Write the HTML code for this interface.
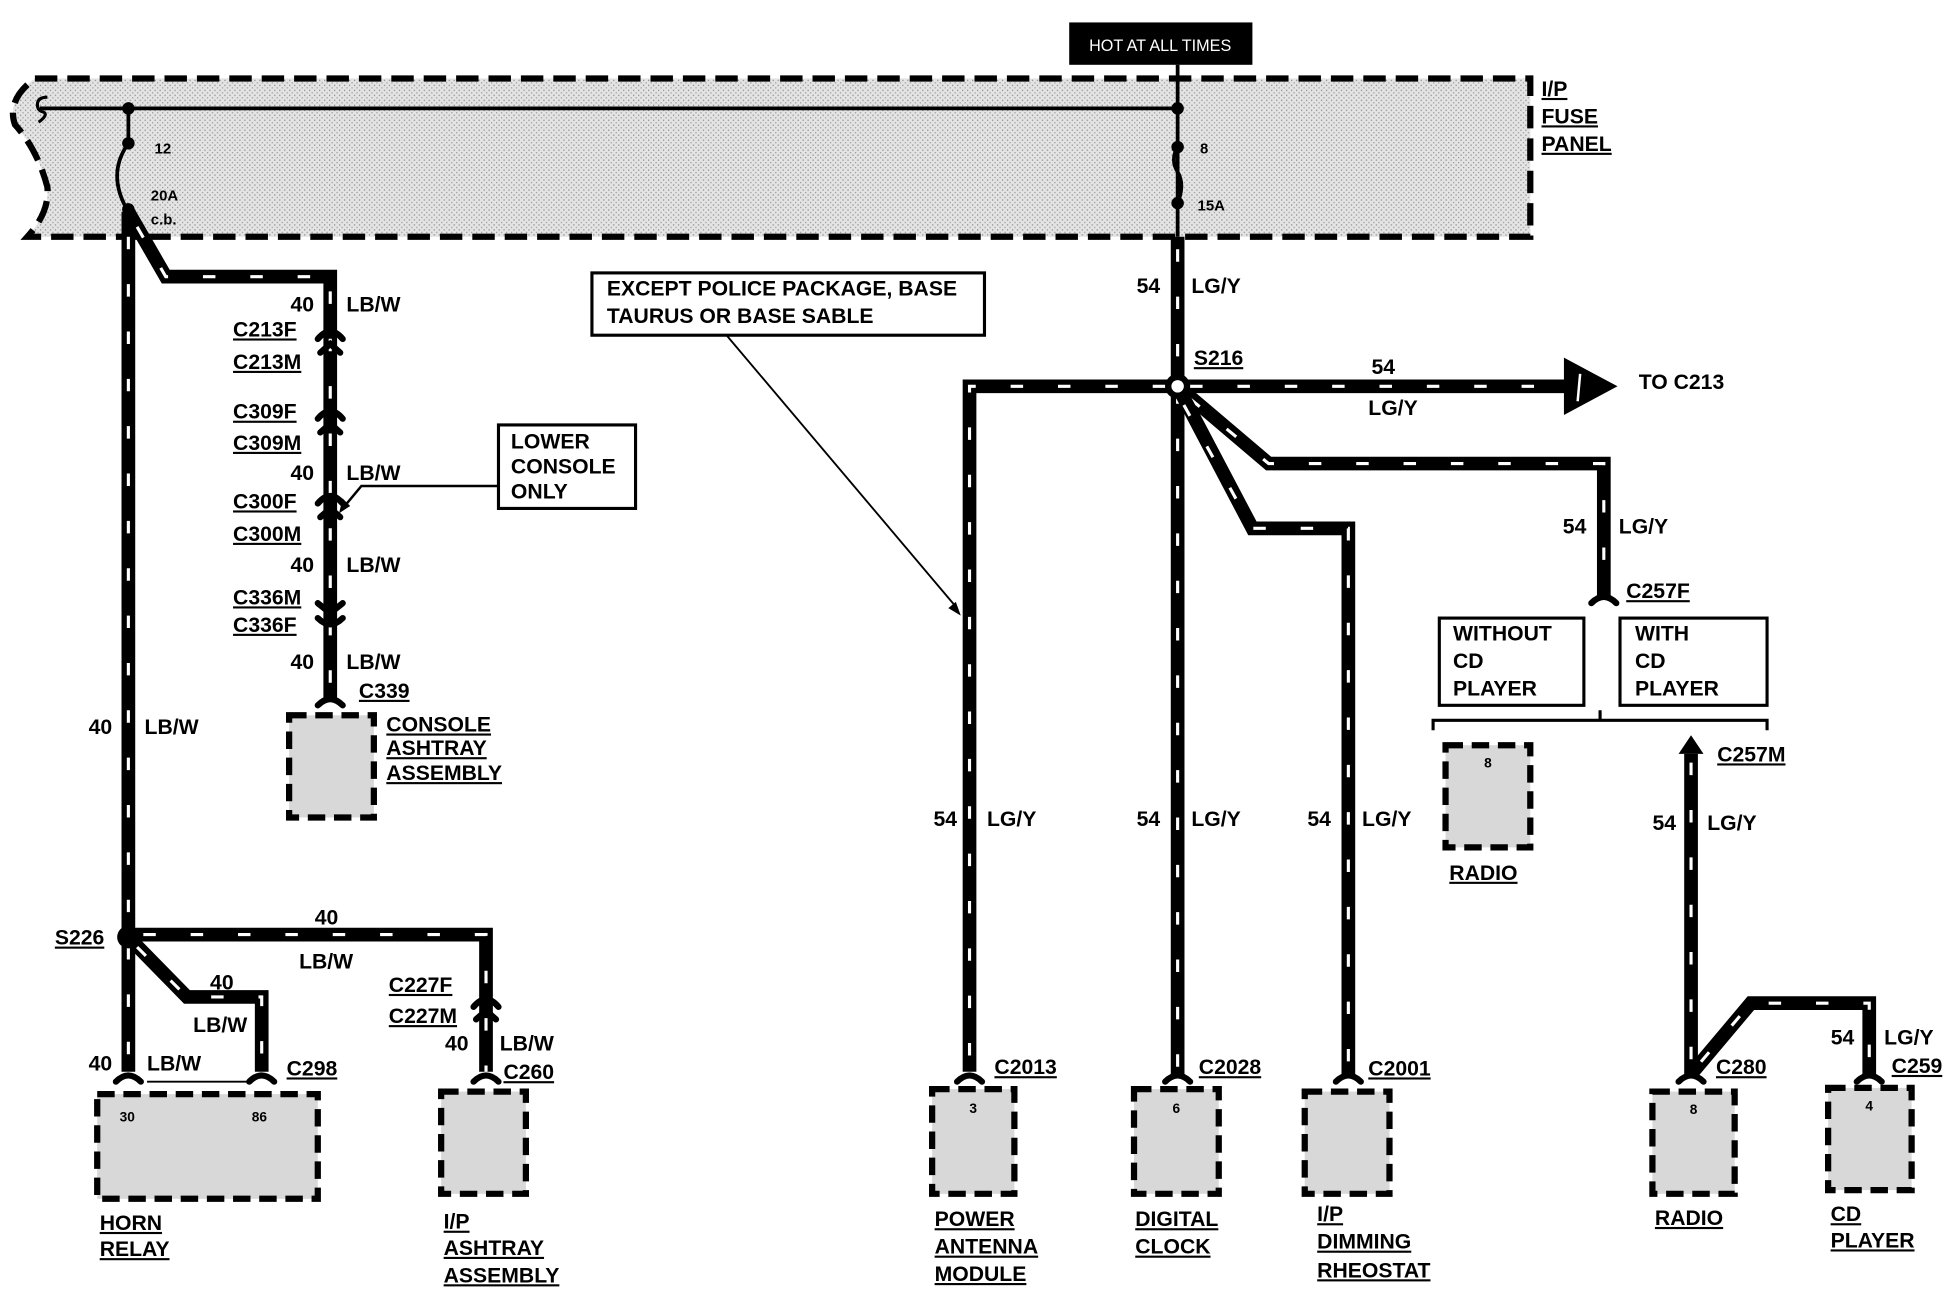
<!DOCTYPE html>
<html><head><meta charset="utf-8"><style>
html,body{margin:0;padding:0;background:#fff;}
svg{display:block}
text{font-family:"Liberation Sans",Arial,sans-serif;font-weight:bold;font-size:17px;fill:#000}
.u{text-decoration:underline}
.w{fill:none;stroke:#000;stroke-width:11;stroke-linejoin:miter}
.d{fill:none;stroke:#fff;stroke-width:2.5;stroke-dasharray:10 28}
.t{fill:none;stroke:#000;stroke-width:5;stroke-linecap:round}
.box{fill:#d8d8d8;stroke:#000;stroke-width:5;stroke-dasharray:14 7}
.lb{fill:#fff;stroke:#000;stroke-width:2.5}
</style></head><body>
<svg width="1954" height="1296" viewBox="0 0 1568 1040" xmlns="http://www.w3.org/2000/svg">
<defs>
<pattern id="dots" width="4" height="4" patternUnits="userSpaceOnUse"><rect width="4" height="4" fill="#e4e4e4"/><rect width="1" height="1" fill="#888"/><rect x="2" y="2" width="1" height="1" fill="#999"/></pattern>
</defs>
<!-- fuse panel -->
<path d="M28,63 L1228,63 L1228,190 L22,190 Q40,170 38,150 Q30,120 12,100 Q5,80 28,63 Z" fill="url(#dots)" stroke="#000" stroke-width="5" stroke-dasharray="18 8"/>
<rect x="858" y="18" width="147" height="34" fill="#000"/>
<text x="931" y="41" text-anchor="middle" style="fill:#fff;font-weight:normal;font-size:13px">HOT AT ALL TIMES</text>
<line x1="945" y1="52" x2="945" y2="190" stroke="#000" stroke-width="3"/>
<path d="M945,118 q-6,10 0,20 q6,10 0,25" fill="none" stroke="#000" stroke-width="3"/>
<line x1="32" y1="87" x2="945" y2="87" stroke="#000" stroke-width="3"/>
<path d="M38,78 q-8,0 -8,6 q0,5 5,6 q4,2 -4,8" fill="none" stroke="#000" stroke-width="2.5"/>
<line x1="103" y1="87" x2="103" y2="115" stroke="#000" stroke-width="3"/>
<path d="M103,115 Q85,140 103,170" fill="none" stroke="#000" stroke-width="3"/>
<circle cx="103" cy="87" r="5"/><circle cx="103" cy="115" r="5"/><circle cx="103" cy="168" r="5"/>
<circle cx="945" cy="87" r="5"/><circle cx="945" cy="118" r="5"/><circle cx="945" cy="163" r="5"/>
<text x="124" y="123" style="font-size:12px">12</text>
<text x="121" y="161" style="font-size:12px">20A</text>
<text x="121" y="180" style="font-size:12px">c.b.</text>
<text x="963" y="123" style="font-size:12px">8</text>
<text x="961" y="169" style="font-size:12px">15A</text>
<text x="1237" y="77" class="u">I/P</text>
<text x="1237" y="99" class="u">FUSE</text>
<text x="1237" y="121" class="u">PANEL</text>

<!-- left wires -->
<path class="w" d="M103,170 L103,860"/><path class="d" d="M103,190 L103,860"/>
<path class="w" d="M103,170 L133,222 L265,222 L265,560"/><path class="d" d="M110,182 L133,222 L265,222 L265,560"/>
<g class="t">
<path d="M255,272 Q265,260 275,272"/><path d="M257,283 L265,276 L273,283"/>
<path d="M255,336 Q265,324 275,336"/><path d="M257,347 L265,340 L273,347"/>
<path d="M255,404 Q265,392 275,404"/><path d="M257,415 L265,408 L273,415"/>
<path d="M255,484 L265,492 L275,484"/><path d="M255,496 Q265,506 275,496"/>
</g>
<path d="M255,566 Q265,556 275,566" class="t"/>
<text x="252" y="250" text-anchor="end">40</text><text x="278" y="250">LB/W</text>
<text x="187" y="270" class="u">C213F</text><text x="187" y="296" class="u">C213M</text>
<text x="187" y="336" class="u">C309F</text><text x="187" y="361" class="u">C309M</text>
<text x="252" y="385" text-anchor="end">40</text><text x="278" y="385">LB/W</text>
<text x="187" y="408" class="u">C300F</text><text x="187" y="434" class="u">C300M</text>
<text x="252" y="459" text-anchor="end">40</text><text x="278" y="459">LB/W</text>
<text x="187" y="485" class="u">C336M</text><text x="187" y="507" class="u">C336F</text>
<text x="252" y="537" text-anchor="end">40</text><text x="278" y="537">LB/W</text>
<text x="288" y="560" class="u">C339</text>
<rect x="400" y="341" width="110" height="67" class="lb"/>
<text x="410" y="360">LOWER</text><text x="410" y="380">CONSOLE</text><text x="410" y="400">ONLY</text>
<path d="M400,390 L290,390 L275,408" fill="none" stroke="#000" stroke-width="2"/>
<path d="M272,412 l3,-12 l6,6 z"/>
<rect x="232" y="574" width="68" height="82" class="box"/>
<text x="310" y="587" class="u">CONSOLE</text><text x="310" y="606" class="u">ASHTRAY</text><text x="310" y="626" class="u">ASSEMBLY</text>
<text x="90" y="589" text-anchor="end">40</text><text x="116" y="589">LB/W</text>

<!-- S226 -->
<path class="w" d="M103,750 L390,750 L390,860"/><path class="d" d="M115,750 L390,750 L390,860"/>
<path class="w" d="M103,752 L150,800 L210,800 L210,860"/><path class="d" d="M110,760 L150,800 L210,800 L210,860"/>
<circle cx="103" cy="752" r="9"/>
<text x="44" y="758" class="u">S226</text>
<text x="262" y="742" text-anchor="middle">40</text><text x="240" y="777">LB/W</text>
<text x="178" y="794" text-anchor="middle">40</text><text x="155" y="828">LB/W</text>
<text x="90" y="859" text-anchor="end">40</text><text x="118" y="859">LB/W</text>
<line x1="118" y1="868" x2="200" y2="868" stroke="#000" stroke-width="1.5"/>
<text x="230" y="863" class="u">C298</text>
<path d="M380,808 Q390,796 400,808" class="t"/><path d="M382,818 L390,811 L398,818" class="t"/>
<text x="312" y="796" class="u">C227F</text><text x="312" y="821" class="u">C227M</text>
<text x="376" y="843" text-anchor="end">40</text><text x="401" y="843">LB/W</text>
<text x="404" y="866" class="u">C260</text>
<g class="t">
<path d="M93,868 Q103,858 113,868"/><path d="M200,868 Q210,858 220,868"/><path d="M380,868 Q390,858 400,868"/>
</g>
<rect x="78" y="878" width="177" height="84" class="box"/>
<text x="96" y="900" style="font-size:11px">30</text><text x="202" y="900" style="font-size:11px">86</text>
<text x="80" y="987" class="u">HORN</text><text x="80" y="1008" class="u">RELAY</text>
<rect x="354" y="876" width="68" height="82" class="box"/>
<text x="356" y="986" class="u">I/P</text><text x="356" y="1007" class="u">ASHTRAY</text><text x="356" y="1029" class="u">ASSEMBLY</text>

<!-- right -->
<path class="w" d="M945,190 L945,862"/><path class="d" d="M945,200 L945,862"/>
<path class="w" d="M945,310 L778,310 L778,860"/><path class="d" d="M935,310 L778,310 L778,860"/>
<path class="w" d="M945,310 L1260,310"/><path class="d" d="M955,310 L1250,310"/>
<path d="M1255,287 L1298,310 L1255,333 Z"/>
<path d="M1268,300 L1266,322" stroke="#fff" stroke-width="2"/>
<path class="w" d="M945,310 L1018,372 L1287,372 L1287,478"/><path class="d" d="M955,320 L1018,372 L1287,372 L1287,478"/>
<path class="w" d="M945,310 L1005,424 L1082,424 L1082,862"/><path class="d" d="M950,325 L1005,424 L1082,424 L1082,862"/>
<circle cx="945" cy="310" r="10"/><circle cx="945" cy="310" r="5" fill="#fff"/>
<text x="931" y="235" text-anchor="end">54</text><text x="956" y="235">LG/Y</text>
<text x="958" y="293" class="u">S216</text>
<text x="1110" y="300" text-anchor="middle">54</text><text x="1098" y="333">LG/Y</text>
<text x="1315" y="312">TO C213</text>
<rect x="475" y="219" width="315" height="50" class="lb"/>
<text x="487" y="237">EXCEPT POLICE PACKAGE, BASE</text><text x="487" y="259">TAURUS OR BASE SABLE</text>
<line x1="583" y1="269" x2="768" y2="488" stroke="#000" stroke-width="1.5"/>
<path d="M771,494 l-10,-6 l6,-5 z"/>
<text x="1273" y="428" text-anchor="end">54</text><text x="1299" y="428">LG/Y</text>
<path d="M1277,484 Q1287,474 1297,484" class="t"/>
<text x="1305" y="480" class="u">C257F</text>
<rect x="1155" y="496" width="116" height="70" class="lb"/>
<text x="1166" y="514">WITHOUT</text><text x="1166" y="536">CD</text><text x="1166" y="558">PLAYER</text>
<rect x="1300" y="496" width="118" height="70" class="lb"/>
<text x="1312" y="514">WITH</text><text x="1312" y="536">CD</text><text x="1312" y="558">PLAYER</text>
<path d="M1150,586 L1150,578 L1418,578 L1418,586 M1284,578 L1284,570" fill="none" stroke="#000" stroke-width="2.5"/>
<rect x="1160" y="598" width="68" height="82" class="box"/>
<text x="1194" y="616" text-anchor="middle" style="font-size:11px">8</text>
<text x="1163" y="706" class="u">RADIO</text>
<path class="w" d="M1357,605 L1357,862"/><path class="d" d="M1357,612 L1357,862"/>
<path d="M1347,605 L1357,590 L1367,605 Z"/>
<text x="1378" y="611" class="u">C257M</text>
<text x="1345" y="666" text-anchor="end">54</text><text x="1370" y="666">LG/Y</text>
<path class="w" d="M1357,862 L1405,805 L1500,805 L1500,862"/><path class="d" d="M1365,852 L1405,805 L1500,805 L1500,862"/>
<text x="1488" y="838" text-anchor="end">54</text><text x="1512" y="838">LG/Y</text>
<text x="1377" y="862" class="u">C280</text><text x="1518" y="861" class="u">C259</text>
<text x="768" y="663" text-anchor="end">54</text><text x="792" y="663">LG/Y</text>
<text x="931" y="663" text-anchor="end">54</text><text x="956" y="663">LG/Y</text>
<text x="1068" y="663" text-anchor="end">54</text><text x="1093" y="663">LG/Y</text>
<text x="798" y="862" class="u">C2013</text><text x="962" y="862" class="u">C2028</text><text x="1098" y="863" class="u">C2001</text>
<g class="t">
<path d="M768,868 Q778,858 788,868"/><path d="M935,868 Q945,858 955,868"/><path d="M1072,868 Q1082,858 1092,868"/>
<path d="M1347,868 Q1357,858 1367,868"/><path d="M1490,868 Q1500,858 1510,868"/>
</g>
<rect x="748" y="874" width="66" height="84" class="box"/>
<text x="781" y="893" text-anchor="middle" style="font-size:11px">3</text>
<text x="750" y="984" class="u">POWER</text><text x="750" y="1006" class="u">ANTENNA</text><text x="750" y="1028" class="u">MODULE</text>
<rect x="910" y="874" width="68" height="84" class="box"/>
<text x="944" y="893" text-anchor="middle" style="font-size:11px">6</text>
<text x="911" y="984" class="u">DIGITAL</text><text x="911" y="1006" class="u">CLOCK</text>
<rect x="1047" y="876" width="68" height="82" class="box"/>
<text x="1057" y="980" class="u">I/P</text><text x="1057" y="1002" class="u">DIMMING</text><text x="1057" y="1025" class="u">RHEOSTAT</text>
<rect x="1326" y="876" width="66" height="82" class="box"/>
<text x="1359" y="894" text-anchor="middle" style="font-size:11px">8</text>
<text x="1328" y="983" class="u">RADIO</text>
<rect x="1467" y="873" width="67" height="82" class="box"/>
<text x="1500" y="891" text-anchor="middle" style="font-size:11px">4</text>
<text x="1469" y="980" class="u">CD</text><text x="1469" y="1001" class="u">PLAYER</text>
</svg>
</body></html>
